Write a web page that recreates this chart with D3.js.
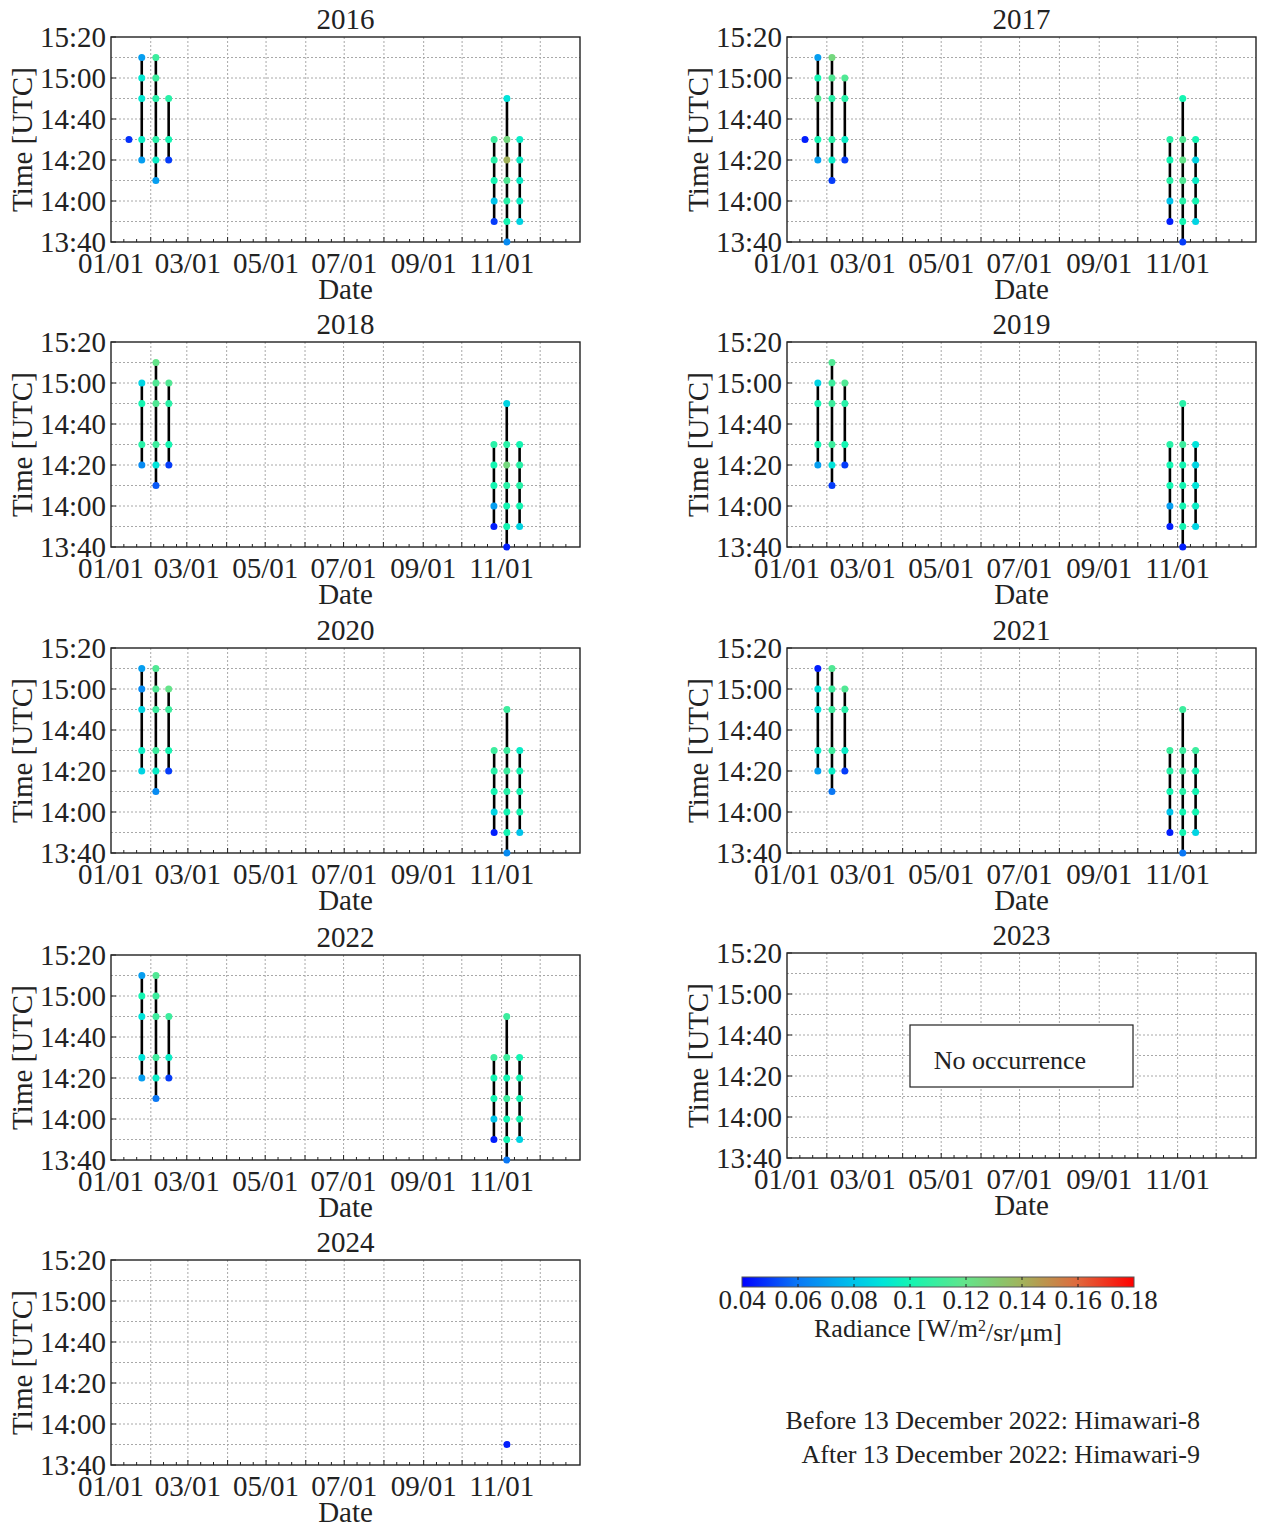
<!DOCTYPE html>
<html>
<head>
<meta charset="utf-8">
<script src="https://cdn.jsdelivr.net/npm/d3@7"></script>
<style>
  html, body { margin: 0; padding: 0; background: #fff; }
  svg { display: block; }
  text { font-family: "Liberation Serif", "Times New Roman", serif; fill: #222; }
</style>
</head>
<body>
<script>
// ---- Observations: [date (MM-DD), time (HH:MM UTC), radiance W/m2/sr/um] ----
const obs2016 = [
  ["01-15","14:30",0.048],
  ["01-25","15:10",0.070],["01-25","15:00",0.092],["01-25","14:50",0.092],["01-25","14:30",0.095],["01-25","14:20",0.070],
  ["02-05","15:10",0.110],["02-05","15:00",0.110],["02-05","14:50",0.105],["02-05","14:30",0.105],["02-05","14:20",0.095],["02-05","14:10",0.070],
  ["02-15","14:50",0.105],["02-15","14:30",0.100],["02-15","14:20",0.050],
  ["10-26","14:30",0.110],["10-26","14:20",0.105],["10-26","14:10",0.100],["10-26","14:00",0.080],["10-26","13:50",0.050],
  ["11-05","14:50",0.090],["11-05","14:30",0.125],["11-05","14:20",0.140],["11-05","14:10",0.115],["11-05","14:00",0.105],["11-05","13:50",0.100],["11-05","13:40",0.065],
  ["11-15","14:30",0.095],["11-15","14:20",0.095],["11-15","14:10",0.095],["11-15","14:00",0.095],["11-15","13:50",0.085]
];
const obs2017 = [
  ["01-15","14:30",0.045],
  ["01-25","15:10",0.070],["01-25","15:00",0.100],["01-25","14:50",0.115],["01-25","14:30",0.100],["01-25","14:20",0.070],
  ["02-05","15:10",0.125],["02-05","15:00",0.115],["02-05","14:50",0.105],["02-05","14:30",0.105],["02-05","14:20",0.095],["02-05","14:10",0.050],
  ["02-15","15:00",0.115],["02-15","14:50",0.105],["02-15","14:30",0.095],["02-15","14:20",0.050],
  ["10-26","14:30",0.105],["10-26","14:20",0.100],["10-26","14:10",0.105],["10-26","14:00",0.080],["10-26","13:50",0.045],
  ["11-05","14:50",0.100],["11-05","14:30",0.115],["11-05","14:20",0.120],["11-05","14:10",0.115],["11-05","14:00",0.105],["11-05","13:50",0.100],["11-05","13:40",0.050],
  ["11-15","14:30",0.100],["11-15","14:20",0.085],["11-15","14:10",0.095],["11-15","14:00",0.100],["11-15","13:50",0.085]
];
const obs2018 = [
  ["01-25","15:00",0.085],["01-25","14:50",0.100],["01-25","14:30",0.105],["01-25","14:20",0.065],
  ["02-05","15:10",0.120],["02-05","15:00",0.115],["02-05","14:50",0.115],["02-05","14:30",0.110],["02-05","14:20",0.090],["02-05","14:10",0.055],
  ["02-15","15:00",0.115],["02-15","14:50",0.105],["02-15","14:30",0.100],["02-15","14:20",0.050],
  ["10-26","14:30",0.105],["10-26","14:20",0.100],["10-26","14:10",0.100],["10-26","14:00",0.070],["10-26","13:50",0.045],
  ["11-05","14:50",0.085],["11-05","14:30",0.105],["11-05","14:20",0.125],["11-05","14:10",0.105],["11-05","14:00",0.100],["11-05","13:50",0.100],["11-05","13:40",0.045],
  ["11-15","14:30",0.100],["11-15","14:20",0.105],["11-15","14:10",0.105],["11-15","14:00",0.100],["11-15","13:50",0.085]
];
const obs2019 = [
  ["01-25","15:00",0.085],["01-25","14:50",0.100],["01-25","14:30",0.100],["01-25","14:20",0.070],
  ["02-05","15:10",0.115],["02-05","15:00",0.110],["02-05","14:50",0.110],["02-05","14:30",0.110],["02-05","14:20",0.090],["02-05","14:10",0.050],
  ["02-15","15:00",0.115],["02-15","14:50",0.105],["02-15","14:30",0.100],["02-15","14:20",0.050],
  ["10-26","14:30",0.105],["10-26","14:20",0.100],["10-26","14:10",0.100],["10-26","14:00",0.070],["10-26","13:50",0.045],
  ["11-05","14:50",0.105],["11-05","14:30",0.110],["11-05","14:20",0.100],["11-05","14:10",0.100],["11-05","14:00",0.100],["11-05","13:50",0.100],["11-05","13:40",0.045],
  ["11-15","14:30",0.090],["11-15","14:20",0.085],["11-15","14:10",0.090],["11-15","14:00",0.095],["11-15","13:50",0.085]
];
const obs2020 = [
  ["01-25","15:10",0.070],["01-25","15:00",0.065],["01-25","14:50",0.085],["01-25","14:30",0.095],["01-25","14:20",0.085],
  ["02-05","15:10",0.115],["02-05","15:00",0.115],["02-05","14:50",0.110],["02-05","14:30",0.110],["02-05","14:20",0.095],["02-05","14:10",0.065],
  ["02-15","15:00",0.120],["02-15","14:50",0.110],["02-15","14:30",0.100],["02-15","14:20",0.050],
  ["10-26","14:30",0.110],["10-26","14:20",0.105],["10-26","14:10",0.100],["10-26","14:00",0.085],["10-26","13:50",0.045],
  ["11-05","14:50",0.110],["11-05","14:30",0.110],["11-05","14:20",0.110],["11-05","14:10",0.105],["11-05","14:00",0.100],["11-05","13:50",0.100],["11-05","13:40",0.065],
  ["11-15","14:30",0.095],["11-15","14:20",0.100],["11-15","14:10",0.100],["11-15","14:00",0.100],["11-15","13:50",0.080]
];
const obs2021 = [
  ["01-25","15:10",0.045],["01-25","15:00",0.090],["01-25","14:50",0.090],["01-25","14:30",0.095],["01-25","14:20",0.070],
  ["02-05","15:10",0.115],["02-05","15:00",0.110],["02-05","14:50",0.110],["02-05","14:30",0.110],["02-05","14:20",0.095],["02-05","14:10",0.060],
  ["02-15","15:00",0.115],["02-15","14:50",0.105],["02-15","14:30",0.095],["02-15","14:20",0.050],
  ["10-26","14:30",0.110],["10-26","14:20",0.105],["10-26","14:10",0.100],["10-26","14:00",0.080],["10-26","13:50",0.045],
  ["11-05","14:50",0.110],["11-05","14:30",0.110],["11-05","14:20",0.110],["11-05","14:10",0.105],["11-05","14:00",0.100],["11-05","13:50",0.100],["11-05","13:40",0.060],
  ["11-15","14:30",0.110],["11-15","14:20",0.100],["11-15","14:10",0.100],["11-15","14:00",0.100],["11-15","13:50",0.085]
];
const obs2022 = [
  ["01-25","15:10",0.070],["01-25","15:00",0.100],["01-25","14:50",0.090],["01-25","14:30",0.090],["01-25","14:20",0.070],
  ["02-05","15:10",0.115],["02-05","15:00",0.110],["02-05","14:50",0.110],["02-05","14:30",0.110],["02-05","14:20",0.095],["02-05","14:10",0.060],
  ["02-15","14:50",0.110],["02-15","14:30",0.095],["02-15","14:20",0.050],
  ["10-26","14:30",0.110],["10-26","14:20",0.100],["10-26","14:10",0.100],["10-26","14:00",0.080],["10-26","13:50",0.045],
  ["11-05","14:50",0.110],["11-05","14:30",0.110],["11-05","14:20",0.100],["11-05","14:10",0.110],["11-05","14:00",0.100],["11-05","13:50",0.100],["11-05","13:40",0.060],
  ["11-15","14:30",0.100],["11-15","14:20",0.100],["11-15","14:10",0.100],["11-15","14:00",0.100],["11-15","13:50",0.085]
];
const obs2023 = [];
const obs2024 = [
  ["11-05","13:50",0.045]
];

const years = [2016, 2017, 2018, 2019, 2020, 2021, 2022, 2023, 2024];
const observations = [obs2016, obs2017, obs2018, obs2019, obs2020, obs2021, obs2022, obs2023, obs2024];

// Axis ticks
const timeTickLabels = ["13:40", "14:00", "14:20", "14:40", "15:00", "15:20"];
const dateTickLabels = ["01/01", "03/01", "05/01", "07/01", "09/01", "11/01"];

// Colour bar
const radianceTicks = [0.04, 0.06, 0.08, 0.10, 0.12, 0.14, 0.16, 0.18];
const radianceTickLabels = ["0.04", "0.06", "0.08", "0.1", "0.12", "0.14", "0.16", "0.18"];
const radianceStops = [0.04, 0.06, 0.08, 0.09, 0.10, 0.12, 0.14, 0.16, 0.18];
const radianceColours = ["#0000ff", "#0a78f5", "#00c4ea", "#00e4da", "#14f5b2", "#64e48a", "#a2b25a", "#e0683c", "#ff0000"];

const satelliteNotes = ["Before 13 December 2022: Himawari-8", "After 13 December 2022: Himawari-9"];

// ---- Layout ----
const W = 1262, H = 1524;
const plotW = 469, plotH = 205;
const colLeft = [111, 787];
const rowTop = [37, 342, 648, 955, 1260];
const fontSize = 29;

const toMin = s => { const [h, m] = s.split(":").map(Number); return h * 60 + m; };

const colour = d3.scaleLinear().domain(radianceStops).range(radianceColours)
  .interpolate(d3.interpolateRgb).clamp(true);

const svg = d3.select("body").append("svg").attr("width", W).attr("height", H);

function drawPanel(year, obs, left, top) {
  const g = svg.append("g").attr("transform", `translate(${left},${top})`);
  const x = d3.scaleUtc().domain([new Date(Date.UTC(year, 0, 1)), new Date(Date.UTC(year + 1, 0, 1))]).range([0, plotW]);
  const y = d3.scaleLinear().domain([toMin(timeTickLabels[0]), toMin(timeTickLabels[timeTickLabels.length - 1])]).range([plotH, 0]);

  // grid
  const gridY = d3.range(y.domain()[0] + 10, y.domain()[1], 10);
  g.append("g").selectAll("line").data(gridY).join("line")
    .attr("x1", 0).attr("x2", plotW).attr("y1", d => y(d)).attr("y2", d => y(d))
    .attr("stroke", "#a8a8a8").attr("stroke-width", 1).attr("stroke-dasharray", "2,2");
  const months = d3.utcMonth.range(new Date(Date.UTC(year, 1, 1)), new Date(Date.UTC(year + 1, 0, 1)));
  g.append("g").selectAll("line").data(months).join("line")
    .attr("x1", d => x(d)).attr("x2", d => x(d)).attr("y1", 0).attr("y2", plotH)
    .attr("stroke", "#a8a8a8").attr("stroke-width", 1).attr("stroke-dasharray", "2,2");

  // inward ticks
  const minorDays = [];
  d3.utcMonth.range(new Date(Date.UTC(year, 0, 1)), new Date(Date.UTC(year + 1, 0, 1))).forEach(m => {
    minorDays.push(new Date(Date.UTC(year, m.getUTCMonth(), 11)));
    minorDays.push(new Date(Date.UTC(year, m.getUTCMonth(), 21)));
  });
  g.append("g").selectAll("line").data(minorDays).join("line")
    .attr("x1", d => x(d)).attr("x2", d => x(d)).attr("y1", plotH).attr("y2", plotH - 3)
    .attr("stroke", "#222").attr("stroke-width", 1);
  g.append("g").selectAll("line").data(months).join("line")
    .attr("x1", d => x(d)).attr("x2", d => x(d)).attr("y1", plotH).attr("y2", plotH - 5)
    .attr("stroke", "#222").attr("stroke-width", 1);
  const majorY = timeTickLabels.map(toMin);
  g.append("g").selectAll("line").data(majorY).join("line")
    .attr("x1", 0).attr("x2", 5).attr("y1", d => y(d)).attr("y2", d => y(d))
    .attr("stroke", "#222").attr("stroke-width", 1);

  // frame
  g.append("rect").attr("width", plotW).attr("height", plotH)
    .attr("fill", "none").attr("stroke", "#222").attr("stroke-width", 1.4);

  // tick labels
  g.append("g").selectAll("text").data(timeTickLabels).join("text")
    .attr("x", -5).attr("y", d => y(toMin(d))).attr("dy", "0.35em")
    .attr("text-anchor", "end").attr("font-size", fontSize).text(d => d);
  g.append("g").selectAll("text").data(dateTickLabels).join("text")
    .attr("x", d => { const [mm, dd] = d.split("/").map(Number); return x(new Date(Date.UTC(year, mm - 1, dd))); })
    .attr("y", plotH + 31).attr("text-anchor", "middle").attr("font-size", fontSize).text(d => d);

  // titles
  g.append("text").attr("x", plotW / 2).attr("y", -8).attr("text-anchor", "middle")
    .attr("font-size", fontSize).text(year);
  g.append("text").attr("x", plotW / 2).attr("y", plotH + 57).attr("text-anchor", "middle")
    .attr("font-size", fontSize).text("Date");
  g.append("text").attr("transform", `translate(-89,${plotH / 2}) rotate(-90)`)
    .attr("dy", "0.35em").attr("text-anchor", "middle").attr("font-size", fontSize).text("Time [UTC]");

  const parsed = obs.map(([md, t, r]) => ({
    date: new Date(Date.UTC(year, +md.slice(0, 2) - 1, +md.slice(3, 5))),
    key: md, t: toMin(t), r
  }));

  // vertical range line for each observation day
  const byDay = d3.groups(parsed, d => d.key).filter(([, v]) => v.length > 1);
  g.append("g").selectAll("line").data(byDay).join("line")
    .attr("x1", ([, v]) => x(v[0].date)).attr("x2", ([, v]) => x(v[0].date))
    .attr("y1", ([, v]) => y(d3.min(v, d => d.t))).attr("y2", ([, v]) => y(d3.max(v, d => d.t)))
    .attr("stroke", "#000").attr("stroke-width", 2.6);

  g.append("g").selectAll("circle").data(parsed).join("circle")
    .attr("cx", d => x(d.date)).attr("cy", d => y(d.t)).attr("r", 3.5)
    .attr("fill", d => colour(d.r));

  if (obs.length === 0) {
    g.append("rect").attr("x", 123).attr("y", 72).attr("width", 223).attr("height", 62)
      .attr("fill", "#fff").attr("stroke", "#222").attr("stroke-width", 1.2);
    g.append("text").attr("x", 223).attr("y", 107).attr("dy", "0.35em").attr("text-anchor", "middle")
      .attr("font-size", 26).text("No occurrence");
  }
}

years.forEach((yr, i) => {
  const col = i % 2, row = Math.floor(i / 2);
  const top = rowTop[row] - (yr === 2023 ? 2 : 0);
  drawPanel(yr, observations[i], colLeft[col], top);
});

// ---- Colour bar ----
const cb = { x: 742, y: 1277, w: 392, h: 10 };
const cbScale = d3.scaleLinear().domain([radianceTicks[0], radianceTicks[radianceTicks.length - 1]]).range([cb.x, cb.x + cb.w]);
const defs = svg.append("defs");
const grad = defs.append("linearGradient").attr("id", "radianceGradient").attr("x1", "0%").attr("x2", "100%");
d3.range(0, 1.0001, 0.02).forEach(f => {
  const v = radianceTicks[0] + f * (radianceTicks[radianceTicks.length - 1] - radianceTicks[0]);
  grad.append("stop").attr("offset", `${f * 100}%`).attr("stop-color", colour(v));
});
svg.append("rect").attr("x", cb.x).attr("y", cb.y).attr("width", cb.w).attr("height", cb.h)
  .attr("fill", "url(#radianceGradient)").attr("stroke", "#555").attr("stroke-width", 1);
svg.append("g").selectAll("line").data(radianceTicks.slice(1, -1)).join("line")
  .attr("x1", d => cbScale(d)).attr("x2", d => cbScale(d)).attr("y1", cb.y).attr("y2", cb.y + 3)
  .attr("stroke", "#222");
svg.append("g").selectAll("line").data(radianceTicks.slice(1, -1)).join("line")
  .attr("x1", d => cbScale(d)).attr("x2", d => cbScale(d)).attr("y1", cb.y + cb.h).attr("y2", cb.y + cb.h - 3)
  .attr("stroke", "#222");
svg.append("g").selectAll("text").data(radianceTicks).join("text")
  .attr("x", d => cbScale(d)).attr("y", 1300).attr("dy", "0.35em").attr("text-anchor", "middle")
  .attr("font-size", 27).text((d, i) => radianceTickLabels[i]);
const cbLabel = svg.append("text").attr("x", cb.x + cb.w / 2).attr("y", 1328).attr("dy", "0.35em")
  .attr("text-anchor", "middle").attr("font-size", 26);
cbLabel.append("tspan").text("Radiance [W/m");
cbLabel.append("tspan").attr("dy", "-0.4em").attr("font-size", 16).text("2");
cbLabel.append("tspan").attr("dy", "0.4em").text("/sr/μm]");

// ---- Satellite notes ----
svg.append("g").selectAll("text").data(satelliteNotes).join("text")
  .attr("x", 1200).attr("y", (d, i) => 1420 + i * 34).attr("dy", "0.35em")
  .attr("text-anchor", "end").attr("font-size", 26).text(d => d);
</script>
</body>
</html>
